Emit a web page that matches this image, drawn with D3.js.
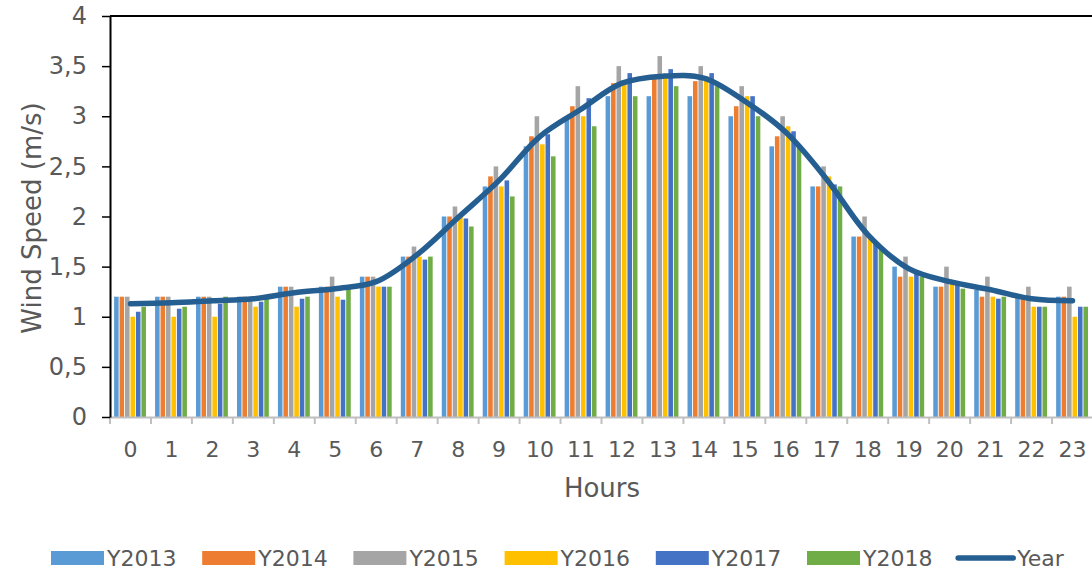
<!DOCTYPE html>
<html>
<head>
<meta charset="utf-8">
<script src="https://cdn.jsdelivr.net/npm/d3@7"></script>
<style>
  body { margin: 0; background: #fff; }
  text { font-family: "DejaVu Sans", Verdana, sans-serif; fill: #595959; }
</style>
</head>
<body>
<svg id="chart"></svg>
<script>
const hours = ["0", "1", "2", "3", "4", "5", "6", "7", "8", "9", "10", "11",
               "12", "13", "14", "15", "16", "17", "18", "19", "20", "21", "22", "23"];
const seriesNames = ["Y2013", "Y2014", "Y2015", "Y2016", "Y2017", "Y2018"];

const y2013 = [1.2, 1.2, 1.2, 1.2, 1.3, 1.3, 1.4, 1.6, 2.0, 2.3, 2.7, 3.0, 3.2, 3.2, 3.2, 3.0, 2.7, 2.3, 1.8, 1.5, 1.3, 1.27, 1.2, 1.2];
const y2014 = [1.2, 1.2, 1.2, 1.2, 1.3, 1.3, 1.4, 1.6, 2.0, 2.4, 2.8, 3.1, 3.33, 3.38, 3.35, 3.1, 2.8, 2.3, 1.8, 1.4, 1.3, 1.2, 1.2, 1.2];
const y2015 = [1.2, 1.2, 1.2, 1.2, 1.3, 1.4, 1.4, 1.7, 2.1, 2.5, 3.0, 3.3, 3.5, 3.6, 3.5, 3.3, 3.0, 2.5, 2.0, 1.6, 1.5, 1.4, 1.3, 1.3];
const y2016 = [1.0, 1.0, 1.0, 1.1, 1.1, 1.2, 1.3, 1.6, 2.02, 2.3, 2.72, 3.0, 3.35, 3.4, 3.4, 3.2, 2.9, 2.4, 1.78, 1.4, 1.33, 1.2, 1.1, 1.0];
const y2017 = [1.05, 1.08, 1.13, 1.15, 1.18, 1.17, 1.3, 1.57, 1.98, 2.36, 2.82, 3.18, 3.43, 3.47, 3.43, 3.2, 2.85, 2.32, 1.75, 1.45, 1.33, 1.18, 1.1, 1.1];
const y2018 = [1.1, 1.1, 1.2, 1.18, 1.2, 1.28, 1.3, 1.6, 1.9, 2.2, 2.6, 2.9, 3.2, 3.3, 3.3, 3.0, 2.7, 2.3, 1.7, 1.4, 1.28, 1.2, 1.1, 1.1];
const yearAvg = [1.13, 1.14, 1.16, 1.18, 1.24, 1.28, 1.35, 1.62, 1.99, 2.36, 2.8, 3.07, 3.33, 3.4, 3.38, 3.15, 2.84, 2.37, 1.82, 1.48, 1.35, 1.27, 1.18, 1.16];

const yTicks = [0, 0.5, 1, 1.5, 2, 2.5, 3, 3.5, 4];
const legendNames = ["Y2013", "Y2014", "Y2015", "Y2016", "Y2017", "Y2018", "Year"];

const width = 1092;
const height = 572;
const plotLeft = 110;
const plotRight = 1093;
const plotTop = 16;
const plotBottom = 417;
const barColors = ["#5B9BD5", "#ED7D31", "#A5A5A5", "#FFC000", "#4472C4", "#70AD47"];
const lineColor = "#255E91";

const svg = d3.select("#chart")
    .attr("width", width)
    .attr("height", height);

const x0 = d3.scaleBand()
    .domain(hours)
    .range([plotLeft, plotRight])
    .paddingInner(0.2)
    .paddingOuter(0.1);

const x1 = d3.scaleBand()
    .domain(seriesNames)
    .range([0, x0.bandwidth()]);

const y = d3.scaleLinear()
    .domain([0, 4])
    .range([plotBottom, plotTop]);

const color = d3.scaleOrdinal()
    .domain(seriesNames)
    .range(barColors);

const seriesValues = [y2013, y2014, y2015, y2016, y2017, y2018];
const barData = hours.flatMap((h, i) =>
    seriesNames.map((s, j) => ({ hour: h, series: s, value: seriesValues[j][i] })));

// bars
svg.append("g")
    .selectAll("rect")
    .data(barData)
    .join("rect")
        .attr("x", d => x0(d.hour) + x1(d.series))
        .attr("y", d => y(d.value))
        .attr("width", x1.bandwidth() - 0.9)
        .attr("height", d => y(0) - y(d.value))
        .attr("fill", d => color(d.series));

// x axis: light grey baseline, ticks at band boundaries
const xAxis = svg.append("g")
    .attr("transform", `translate(0,${plotBottom})`)
    .call(d3.axisBottom(x0).tickSize(0).tickPadding(24));
xAxis.select(".domain").attr("stroke", "#BFBFBF").attr("stroke-width", 2);
xAxis.selectAll(".tick text")
    .attr("font-size", 22)
    .attr("font-family", "DejaVu Sans, Verdana, sans-serif")
    .attr("fill", "#595959");

svg.append("g")
    .selectAll("line")
    .data(d3.range(hours.length + 1))
    .join("line")
        .attr("x1", i => plotLeft + i * x0.step())
        .attr("x2", i => plotLeft + i * x0.step())
        .attr("y1", plotBottom)
        .attr("y2", plotBottom + 7)
        .attr("stroke", "#BFBFBF")
        .attr("stroke-width", 2);

// y axis
const yAxis = svg.append("g")
    .attr("transform", `translate(${plotLeft},0)`)
    .call(d3.axisLeft(y)
        .tickValues(yTicks)
        .tickSize(8)
        .tickSizeOuter(0)
        .tickPadding(15)
        .tickFormat(d => String(d).replace(".", ",")));
yAxis.select(".domain").attr("stroke", "#000").attr("stroke-width", 2);
yAxis.selectAll(".tick line").attr("stroke", "#000").attr("stroke-width", 1.5);
yAxis.selectAll(".tick text")
    .attr("font-size", 24)
    .attr("font-family", "DejaVu Sans, Verdana, sans-serif")
    .attr("fill", "#595959");

// top border of the plot area
svg.append("line")
    .attr("x1", plotLeft)
    .attr("x2", width)
    .attr("y1", y(4))
    .attr("y2", y(4))
    .attr("stroke", "#000")
    .attr("stroke-width", 2);

// smoothed average line
const line = d3.line()
    .x((d, i) => x0(hours[i]) + x0.bandwidth() / 2)
    .y(d => y(d))
    .curve(d3.curveCatmullRom);

svg.append("path")
    .datum(yearAvg)
    .attr("d", line)
    .attr("fill", "none")
    .attr("stroke", lineColor)
    .attr("stroke-width", 5.5)
    .attr("stroke-linecap", "round")
    .attr("stroke-linejoin", "round");

// axis titles
svg.append("text")
    .attr("transform", "translate(32,218) rotate(-90)")
    .attr("text-anchor", "middle")
    .attr("dominant-baseline", "central")
    .attr("font-size", 26)
    .text("Wind Speed (m/s)");

svg.append("text")
    .attr("x", 602)
    .attr("y", 497)
    .attr("text-anchor", "middle")
    .attr("font-size", 26)
    .text("Hours");

// legend
const legendStep = 151.2;
const legend = svg.append("g")
    .selectAll("g")
    .data(legendNames)
    .join("g")
        .attr("transform", (d, i) => `translate(${51 + i * legendStep},558)`);

legend.filter(d => d !== "Year")
    .append("rect")
        .attr("x", 0)
        .attr("y", -7)
        .attr("width", 53)
        .attr("height", 14)
        .attr("fill", d => color(d));

legend.filter(d => d === "Year")
    .append("line")
        .attr("x1", 0)
        .attr("x2", 55)
        .attr("stroke", lineColor)
        .attr("stroke-width", 5.5)
        .attr("stroke-linecap", "round");

legend.append("text")
    .attr("x", d => d === "Year" ? 59 : 56)
    .attr("y", 8)
    .attr("font-size", 22)
    .text(d => d);
</script>
</body>
</html>
